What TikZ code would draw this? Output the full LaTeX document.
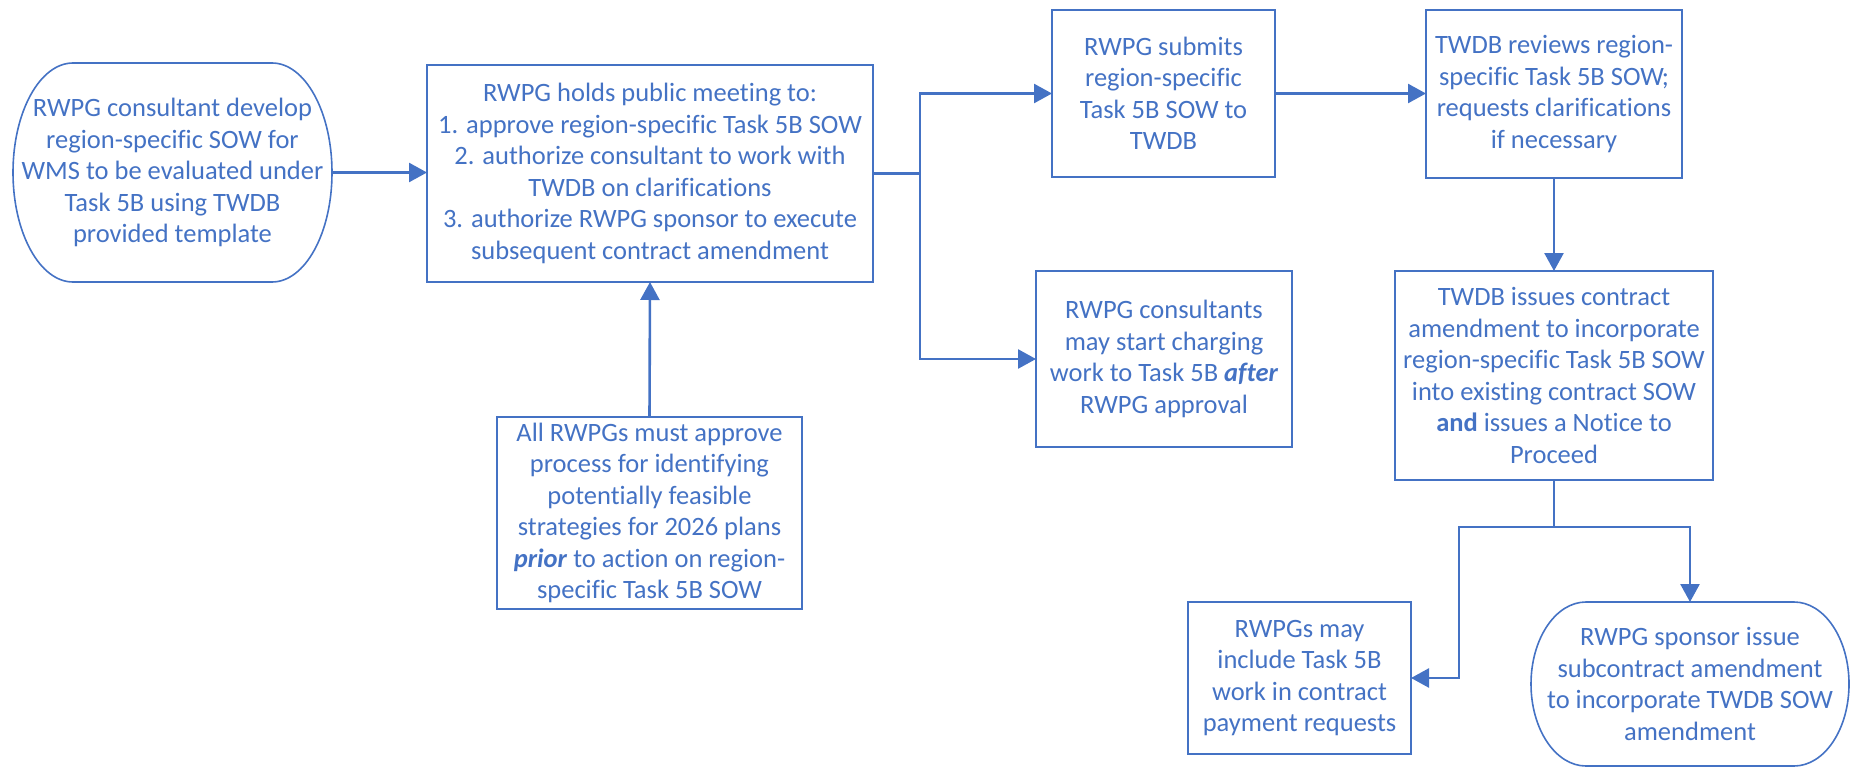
\documentclass[tikz,border=0pt]{standalone}
\usepackage{fontspec}
\setmainfont{Carlito}[Ligatures={NoCommon,NoRare,NoContextual},RawFeature={-liga;-clig;-dlig;-calt}]
\usetikzlibrary{arrows.meta,calc}
\definecolor{ob}{HTML}{4472C4}
\begin{document}
\begin{tikzpicture}[x=1pt,y=-1pt,
  every node/.style={font=\fontsize{26.5}{31.5}\selectfont, text=ob, align=center, inner sep=0pt, outer sep=0pt},
  box/.style={draw=ob, line width=2pt},
  termnode/.style={},
  termline/.style={draw=ob, line width=1.6pt},
  conn/.style={draw=ob, line width=2.6pt},
  arr/.style={conn, -{Triangle[length=18pt,width=19pt]}}
]
\useasboundingbox (0,0) rectangle (1855,768);

% nodes
\node[termnode, minimum width=319pt, minimum height=219pt] (n1) at (172.5,172.5)
  {RWPG consultant develop\\region-specific SOW for\\WMS to be evaluated under\\Task 5B using TWDB\\provided template};
\node[box, minimum width=446pt, minimum height=217pt] (n2) at (650,173.5)
  {RWPG holds public meeting to:\\1. approve region-specific Task 5B SOW\\2. authorize consultant to work with\\TWDB on clarifications\\3. authorize RWPG sponsor to execute\\subsequent contract amendment};
\node[box, minimum width=223pt, minimum height=167pt] (n3) at (1163.5,93.5)
  {RWPG submits\\region-specific\\Task 5B SOW to\\TWDB};
\node[box, minimum width=256pt, minimum height=168pt] (n4) at (1554,94)
  {TWDB reviews region-\\specific Task 5B SOW;\\requests clarifications\\if necessary};
\node[box, minimum width=318pt, minimum height=209pt] (n5) at (1554,375.5)
  {TWDB issues contract\\amendment to incorporate\\region-specific Task 5B SOW\\into existing contract SOW\\\textbf{and} issues a Notice to\\Proceed};
\node[box, minimum width=256pt, minimum height=176pt] (n6) at (1164,359)
  {RWPG consultants\\may start charging\\work to Task 5B \textbf{\textit{after}}\\RWPG approval};
\node[box, minimum width=305pt, minimum height=192pt] (n7) at (649.5,513)
  {All RWPGs must approve\\process for identifying\\potentially feasible\\strategies for 2026 plans\\\textbf{\textit{prior}} to action on region-\\specific Task 5B SOW};
\node[box, minimum width=223pt, minimum height=152pt] (n8) at (1299.5,678)
  {RWPGs may\\include Task 5B\\work in contract\\payment requests};
\node[termnode, minimum width=318pt, minimum height=164pt] (n9) at (1690,684)
  {RWPG sponsor issue\\subcontract amendment\\to incorporate TWDB SOW\\amendment};

% terminal outlines
\draw[termline] ([xshift=-60pt]n1.north east) arc[start angle=90,end angle=-90,x radius=60pt,y radius=109.5pt]
  -- ([xshift=60pt]n1.south west) arc[start angle=270,end angle=90,x radius=60pt,y radius=109.5pt] -- cycle;
\draw[termline] ([xshift=-55pt]n9.north east) arc[start angle=90,end angle=-90,x radius=55pt,y radius=82pt]
  -- ([xshift=55pt]n9.south west) arc[start angle=270,end angle=90,x radius=55pt,y radius=82pt] -- cycle;

% junction coordinates
\coordinate (j1) at (920,173.5);
\coordinate (j2) at (1554,527);
\coordinate (j3) at (1459,527);

% connectors
\draw[arr] (n1.east) -- (n1.east -| n2.west);
\draw[conn] (n2.east) -- (j1);
\draw[arr] (j1) |- (n3.west);
\draw[arr] (j1) |- (n6.west);
\draw[arr] (n3.east) -- (n3.east -| n4.west);
\draw[arr] (n4.south) -- (n5.north);
\draw[arr] (n7.north) -- (n2.south);
\draw[arr] (n5.south) |- (j3) |- (n8.east);
\draw[arr] (j2) -| (n9.north);
\end{tikzpicture}
\end{document}
